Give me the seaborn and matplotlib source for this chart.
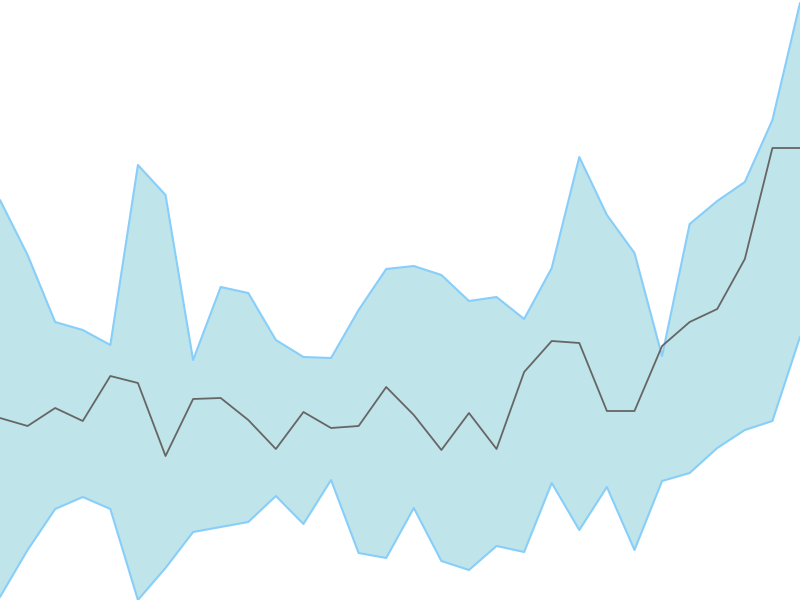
import matplotlib
matplotlib.use("Agg")
import matplotlib.pyplot as plt
import numpy as np
import pandas as pd
import seaborn as sns

# values (0 = bottom edge, 600 = top edge)
steps = list(range(30))
upper = [400, 345, 278, 270, 255, 435, 405, 240, 313, 307,
         260, 243, 242, 290, 331, 334, 325, 299, 303, 281,
         332, 443, 385, 347, 244, 376, 399, 418, 480, 597]
middle = [182, 174, 192, 179, 224, 217, 144, 201, 202, 180,
          151, 188, 172, 174, 213, 185, 150, 187, 151, 228,
          259, 257, 189, 189, 254, 278, 291, 341, 452, 452]
lower = [3, 50, 91, 103, 91, 0, 32, 68, 73, 78,
         104, 76, 120, 47, 42, 92, 39, 30, 54, 48,
         117, 70, 113, 50, 119, 127, 152, 170, 179, 263]

df = pd.DataFrame({"step": steps, "upper": upper, "middle": middle, "lower": lower})

sns.set_style("white")
fig = plt.figure(figsize=(8, 6), dpi=100)
ax = fig.add_axes([0, 0, 1, 1])

ax.fill_between(df["step"], df["lower"], df["upper"], color="#bfe4e9", linewidth=0)
sns.lineplot(data=df, x="step", y="upper", color="#87cefa", linewidth=1.5, ax=ax)
sns.lineplot(data=df, x="step", y="lower", color="#87cefa", linewidth=1.5, ax=ax)
sns.lineplot(data=df, x="step", y="middle", color="#666666", linewidth=1.3, ax=ax)

ax.set_xlim(0, 29)
ax.set_ylim(0, 600)
ax.axis("off")

fig.savefig("out.png", dpi=100)
